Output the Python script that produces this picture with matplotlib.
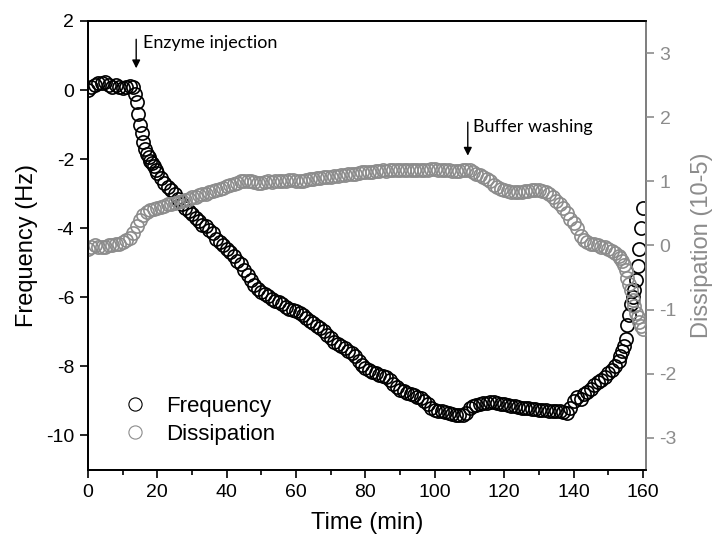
import matplotlib
matplotlib.use("Agg")
import matplotlib.pyplot as plt
from matplotlib.ticker import MultipleLocator

plt.rcParams['font.family'] = ['Liberation Sans', 'DejaVu Sans']
plt.rcParams['axes.unicode_minus'] = False

# Frequency (Hz) vs time (min)
t_freq = (list(range(0, 14))
          + [13.5, 14, 14.5, 15, 15.5, 16, 16.5, 17, 17.5, 18, 18.5, 19, 19.5, 20]
          + list(range(21, 153))
          + [153, 153.5, 154, 154.5, 155, 155.5, 156, 156.5, 157, 157.5, 158, 158.5, 159, 159.5, 160])
frequency = [
    0.0, 0.1, 0.15, 0.2, 0.2, 0.22, 0.15, 0.1, 0.15, 0.1, 0.05, 0.1, 0.12, 0.08,
    -0.1, -0.35, -0.7, -1.0, -1.25, -1.5, -1.7, -1.85, -1.95, -2.05, -2.1, -2.2, -2.3, -2.4,
    -2.55, -2.7, -2.8, -2.9, -3.0, -3.15, -3.3, -3.4, -3.5, -3.6,
    -3.7, -3.8, -3.9, -3.95, -4.05, -4.15, -4.3, -4.4, -4.5, -4.6,
    -4.7, -4.8, -4.95, -5.05, -5.2, -5.35, -5.5, -5.65, -5.75, -5.85,
    -5.9, -5.95, -6.05, -6.1, -6.15, -6.2, -6.28, -6.33, -6.37, -6.4,
    -6.45, -6.5, -6.6, -6.68, -6.75, -6.82, -6.88, -6.98, -7.08, -7.18,
    -7.28, -7.35, -7.42, -7.48, -7.55, -7.6, -7.7, -7.85, -7.95, -8.05,
    -8.1, -8.15, -8.2, -8.25, -8.28, -8.3, -8.4, -8.5, -8.6, -8.68,
    -8.72, -8.76, -8.8, -8.84, -8.88, -8.92, -9.0, -9.1, -9.2, -9.25,
    -9.28, -9.3, -9.33, -9.35, -9.38, -9.4, -9.42, -9.4, -9.35, -9.2,
    -9.15, -9.12, -9.1, -9.05, -9.05, -9.03, -9.02, -9.05, -9.08, -9.1,
    -9.12, -9.15, -9.15, -9.18, -9.2, -9.2, -9.2, -9.22, -9.22, -9.25,
    -9.25, -9.25, -9.28, -9.28, -9.3, -9.3, -9.33, -9.35, -9.2, -9.0,
    -8.9, -8.95, -8.8, -8.75, -8.65, -8.55, -8.45, -8.4, -8.3, -8.2,
    -8.1, -8.0,
    -7.85, -7.7, -7.55, -7.4, -7.2, -6.8, -6.5, -6.2, -6.0, -5.8, -5.5, -5.1, -4.6, -4.0, -3.4,
]

# Dissipation (10-5) vs time (min)
t_diss = (list(range(0, 153))
          + [153, 153.5, 154, 154.5, 155, 155.5, 156, 156.5, 157, 157.5, 158, 158.5, 159, 159.5, 160])
dissipation = [
    -0.05, -0.03, 0.0, -0.02, -0.03, -0.02, 0.0, 0.0, 0.02, 0.03,
    0.05, 0.08, 0.12, 0.2, 0.3, 0.4, 0.47, 0.52, 0.55, 0.57,
    0.58, 0.6, 0.62, 0.64, 0.65, 0.66, 0.68, 0.7, 0.71, 0.73,
    0.75, 0.76, 0.78, 0.8, 0.81, 0.83, 0.85, 0.86, 0.88, 0.9,
    0.92, 0.94, 0.96, 0.98, 1.0, 1.0, 1.01, 1.0, 0.99, 0.98,
    0.98, 0.99, 1.0, 0.99, 1.0, 1.0, 1.0, 1.01, 1.02, 1.02,
    1.01, 1.0, 1.01, 1.02, 1.03, 1.04, 1.05, 1.05, 1.06, 1.07,
    1.07, 1.08, 1.09, 1.1, 1.1, 1.11, 1.12, 1.12, 1.13, 1.14,
    1.14, 1.15, 1.15, 1.16, 1.16, 1.17, 1.16, 1.17, 1.18, 1.18,
    1.18, 1.17, 1.17, 1.18, 1.18, 1.18, 1.17, 1.17, 1.18, 1.19,
    1.19, 1.18, 1.17, 1.17, 1.17, 1.16, 1.16, 1.16, 1.17, 1.17,
    1.18, 1.15, 1.12, 1.1, 1.07, 1.04, 1.0, 0.95, 0.91, 0.88,
    0.86, 0.85, 0.84, 0.83, 0.83, 0.84, 0.85, 0.85, 0.86, 0.86,
    0.86, 0.85, 0.84, 0.81, 0.76, 0.7, 0.65, 0.58, 0.5, 0.42,
    0.35, 0.27, 0.15, 0.08, 0.05, 0.03, 0.02, 0.0, -0.02, -0.03,
    -0.05, -0.08, -0.12,
    -0.17, -0.2, -0.24, -0.3, -0.38, -0.5, -0.6, -0.7, -0.85, -0.95, -1.05, -1.12, -1.2, -1.25, -1.3,
]

gray = '#8c8c8c'

fig = plt.figure(figsize=(7.17, 5.45), dpi=100)
ax = fig.add_axes([0.1227, 0.1376, 0.7779, 0.8239])
ax2 = ax.twinx()

h1, = ax.plot(t_freq, frequency, 'o', mfc='none', mec='black', mew=1.2, ms=9.5, label='Frequency')
h2, = ax2.plot(t_diss, dissipation, 'o', mfc='none', mec=gray, mew=1.2, ms=9.5, label='Dissipation')

ax.set_xlim(0, 160.8)
ax.set_ylim(-11, 2)
ax2.set_ylim(-3.5, 3.5)

ax.xaxis.set_major_locator(MultipleLocator(20))
ax.xaxis.set_minor_locator(MultipleLocator(10))
ax.yaxis.set_major_locator(MultipleLocator(2))
ax2.yaxis.set_major_locator(MultipleLocator(1))

ax.tick_params(axis='both', which='major', direction='out', length=6, width=1.2, labelsize=14, pad=4)
ax.tick_params(axis='x', which='minor', direction='out', length=3.5, width=1.2)
ax2.tick_params(axis='y', direction='out', length=6, width=1.2, labelsize=14, colors=gray, pad=4)

for s in ax.spines.values():
    s.set_linewidth(1.3)
for s in ax2.spines.values():
    s.set_linewidth(1.3)
ax2.spines['right'].set_color(gray)

ax.set_xlabel('Time (min)', fontsize=17, labelpad=8)
ax.set_ylabel('Frequency (Hz)', fontsize=17, labelpad=6)
ax2.set_ylabel('Dissipation (10-5)', fontsize=17, color=gray, labelpad=10)

ax2.annotate('', xy=(13.9, 0.55), xytext=(13.9, 1.55),
             arrowprops=dict(arrowstyle='-|>', color='black', lw=1, mutation_scale=12),
             xycoords=ax.transData, textcoords=ax.transData)
ax2.text(16.0, 1.35, 'Enzyme injection', transform=ax.transData, fontsize=13,
         family=['Lato', 'DejaVu Sans'], va='center', ha='left')
ax2.annotate('', xy=(109.5, -1.98), xytext=(109.5, -0.85),
             arrowprops=dict(arrowstyle='-|>', color='black', lw=1, mutation_scale=12),
             xycoords=ax.transData, textcoords=ax.transData)
ax2.text(111.0, -1.07, 'Buffer washing', transform=ax.transData, fontsize=13,
         family=['Lato', 'DejaVu Sans'], va='center', ha='left')

leg = ax2.legend(handles=[h1, h2], loc='lower left', bbox_to_anchor=(0.028, 0.012),
                 frameon=False, fontsize=16, handletextpad=0.9, labelspacing=0.3,
                 handlelength=1.0)
for hnd in leg.legend_handles:
    hnd.set_markeredgewidth(0.8)

fig.savefig('out.png', dpi=100)
